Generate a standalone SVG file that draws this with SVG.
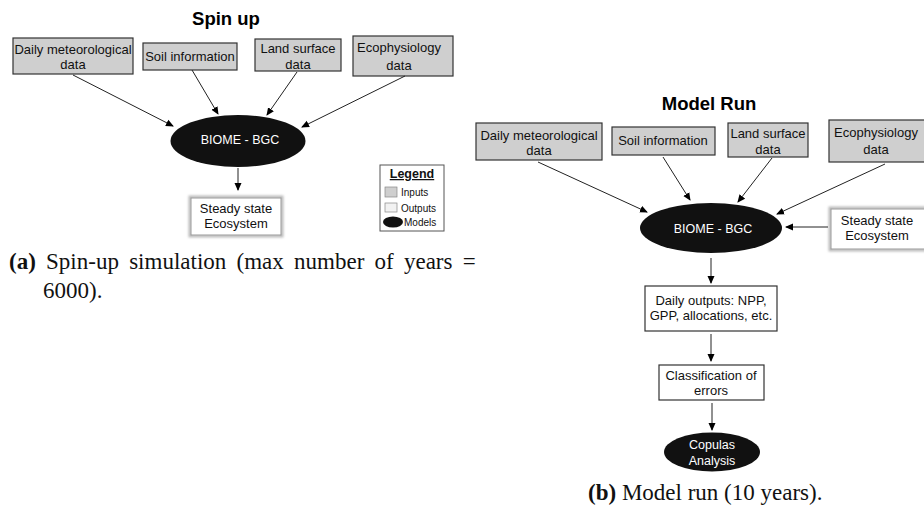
<svg xmlns="http://www.w3.org/2000/svg" width="924" height="515" viewBox="0 0 924 515">
<defs>
<marker id="ah" markerWidth="8" markerHeight="8" refX="7" refY="4" orient="auto" markerUnits="userSpaceOnUse">
<path d="M0,0.5 L8,4 L0,7.5 Z" fill="#000"/>
</marker>
<filter id="glow" x="-20%" y="-20%" width="140%" height="140%">
<feGaussianBlur stdDeviation="1"/>
</filter>
</defs>
<style>
.in{fill:#cfcfcf;stroke:#333;stroke-width:1.2}
.out{fill:#fff;stroke:#333;stroke-width:1.2}
.ss{fill:none;stroke:#bbb;stroke-width:3}
.ssi{fill:#fff;stroke:#999;stroke-width:1}
.mod{fill:#111}
.t{font-family:"Liberation Sans",Arial,sans-serif;font-size:13px;fill:#111;text-anchor:middle}
.tw{font-family:"Liberation Sans",Arial,sans-serif;font-size:12.5px;fill:#fff;text-anchor:middle}
.title{font-family:"Liberation Sans",Arial,sans-serif;font-size:18.5px;font-weight:bold;fill:#000;text-anchor:middle}
.cap{font-family:"Liberation Serif","Times New Roman",serif;font-size:23px;fill:#111}
.lg{font-family:"Liberation Sans",Arial,sans-serif;font-size:10px;fill:#111}
.c{stroke:#222;stroke-width:1;fill:none;marker-end:url(#ah)}
</style>

<text class="title" x="226" y="25">Spin up</text>
<text class="title" x="709" y="110">Model Run</text>

<g id="a-met"><rect class="in" x="13" y="38" width="120" height="36"/><text class="t" x="73" y="54">Daily meteorological</text><text class="t" x="73" y="69">data</text></g>
<g id="a-soil"><rect class="in" x="143" y="43" width="94" height="27"/><text class="t" x="190" y="61">Soil information</text></g>
<g id="a-land"><rect class="in" x="255" y="39" width="86" height="32"/><text class="t" x="298" y="53">Land surface</text><text class="t" x="298" y="69">data</text></g>
<g id="a-eco"><rect class="in" x="353" y="36" width="100" height="40"/><text class="t" x="399" y="52">Ecophysiology</text><text class="t" x="399" y="70">data</text></g>
<g id="a-biome"><ellipse class="mod" cx="238" cy="141" rx="67.5" ry="26"/><text class="tw" x="240" y="144">BIOME - BGC</text></g>
<g id="a-steady"><rect class="ss" x="190" y="197" width="92" height="39" filter="url(#glow)"/><rect class="ssi" x="191" y="198" width="90" height="37"/><text class="t" x="236" y="213">Steady state</text><text class="t" x="236" y="228">Ecosystem</text></g>

<g id="legend">
<rect x="380" y="165" width="64" height="66" fill="#fff" stroke="#555" stroke-width="1"/>
<text x="412" y="178" font-family="Liberation Sans,Arial,sans-serif" font-size="12.5" font-weight="bold" text-anchor="middle" fill="#111" text-decoration="underline">Legend</text>
<rect x="385" y="187" width="12" height="10" fill="#cfcfcf" stroke="#888" stroke-width="0.7"/><text class="lg" x="401" y="196">Inputs</text>
<rect x="385" y="203" width="12" height="9" fill="#f2f2f2" stroke="#888" stroke-width="0.7"/><text class="lg" x="401" y="212">Outputs</text>
<ellipse cx="393" cy="222" rx="10" ry="5.5" fill="#111"/><text class="lg" x="404" y="226">Models</text>
</g>

<g id="b-met"><rect class="in" x="476" y="123" width="126" height="37"/><text class="t" x="539" y="140">Daily meteorological</text><text class="t" x="539" y="155">data</text></g>
<g id="b-soil"><rect class="in" x="612" y="127" width="103" height="28"/><text class="t" x="663" y="145">Soil information</text></g>
<g id="b-land"><rect class="in" x="728" y="123" width="80" height="34"/><text class="t" x="768" y="138">Land surface</text><text class="t" x="768" y="154">data</text></g>
<g id="b-eco"><rect class="in" x="829" y="120" width="100" height="42"/><text class="t" x="876" y="137">Ecophysiology</text><text class="t" x="876" y="154">data</text></g>
<g id="b-biome"><ellipse class="mod" cx="711" cy="228" rx="71" ry="25"/><text class="tw" x="713" y="233">BIOME - BGC</text></g>
<g id="b-steady"><rect class="ss" x="830" y="208" width="100" height="42" filter="url(#glow)"/><rect class="ssi" x="831" y="209" width="100" height="40"/><text class="t" x="877" y="225">Steady state</text><text class="t" x="877" y="240">Ecosystem</text></g>
<g id="b-daily"><rect class="out" x="645" y="286" width="132" height="45"/><text class="t" x="711" y="305">Daily outputs: NPP,</text><text class="t" x="711" y="320">GPP, allocations, etc.</text></g>
<g id="b-class"><rect class="out" x="659" y="365" width="105" height="35"/><text class="t" x="711" y="380">Classification of</text><text class="t" x="711" y="395">errors</text></g>
<g id="b-cop"><ellipse class="mod" cx="712" cy="452" rx="48" ry="19.5"/><text class="tw" x="712" y="449">Copulas</text><text class="tw" x="712" y="465">Analysis</text></g>

<g id="connectors">
<line class="c" x1="73" y1="75" x2="173" y2="126"/>
<line class="c" x1="192" y1="70" x2="218" y2="114"/>
<line class="c" x1="297" y1="72" x2="267" y2="115"/>
<line class="c" x1="405" y1="76" x2="302" y2="127"/>
<line class="c" x1="238" y1="168" x2="238" y2="190"/>
<line class="c" x1="538" y1="162" x2="647" y2="212"/>
<line class="c" x1="663" y1="157" x2="690" y2="200"/>
<line class="c" x1="772" y1="158" x2="738" y2="202"/>
<line class="c" x1="885" y1="164" x2="777" y2="214"/>
<line class="c" x1="828" y1="227" x2="786" y2="227"/>
<line class="c" x1="711" y1="258" x2="711" y2="283"/>
<line class="c" x1="711" y1="334" x2="711" y2="361"/>
<line class="c" x1="712" y1="403" x2="712" y2="430"/>
</g>

<text class="cap" x="9" y="269" word-spacing="4.5"><tspan font-weight="bold">(a)</tspan> Spin-up simulation (max number of years =</text>
<text class="cap" x="43" y="298">6000).</text>
<text class="cap" x="588" y="500"><tspan font-weight="bold">(b)</tspan> Model run (10 years).</text>
</svg>
